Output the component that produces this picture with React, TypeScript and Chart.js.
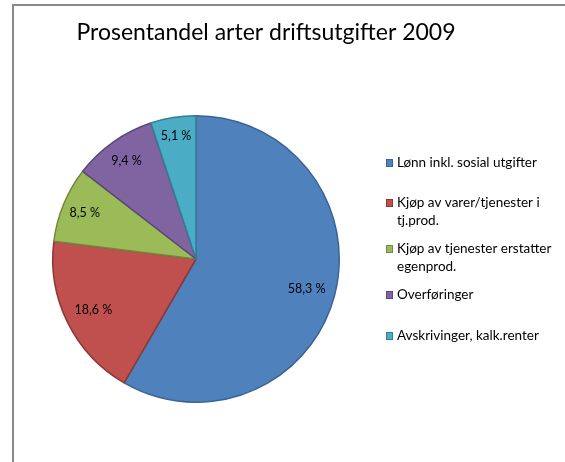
import React, { useEffect, useRef } from "react";
import { Chart, registerables } from "chart.js";

Chart.register(...registerables);

const titleText = "Prosentandel arter driftsutgifter 2009";
const categories = [
  "Lønn inkl. sosial utgifter",
  "Kjøp av varer/tjenester i tj.prod.",
  "Kjøp av tjenester erstatter egenprod.",
  "Overføringer",
  "Avskrivinger, kalk.renter",
];
const legendLines = [
  ["Lønn inkl. sosial utgifter"],
  ["Kjøp av varer/tjenester i", "tj.prod."],
  ["Kjøp av tjenester erstatter", "egenprod."],
  ["Overføringer"],
  ["Avskrivinger, kalk.renter"],
];
const values = [58.3, 18.6, 8.5, 9.4, 5.1];
const valueLabels = ["58,3 %", "18,6 %", "8,5 %", "9,4 %", "5,1 %"];
const fillColors = ["#4F81BD", "#C0504D", "#9BBB59", "#8064A2", "#4BACC6"];
const borderColors = ["#3A6496", "#8C3836", "#71893F", "#5C4776", "#357D91"];

const FONT = "Lato, 'Open Sans', sans-serif";

export default function App() {
  const ref = useRef<HTMLCanvasElement | null>(null);

  useEffect(() => {
    const canvas = ref.current;
    if (!canvas) return;

    const framePlugin = {
      id: "frame",
      beforeDraw(chart: any) {
        const ctx = chart.ctx;
        ctx.save();
        ctx.fillStyle = "#ffffff";
        ctx.fillRect(0, 0, chart.width, chart.height);
        ctx.strokeStyle = "#8a8a8a";
        ctx.lineWidth = 2;
        ctx.strokeRect(13, 5, 700, 700);
        ctx.fillStyle = "#000000";
        ctx.font = `23px ${FONT}`;
        ctx.textAlign = "center";
        ctx.textBaseline = "middle";
        ctx.fillText(titleText, 266, 33);
        ctx.restore();
      },
    };

    const labelPlugin = {
      id: "sliceLabels",
      afterDatasetsDraw(chart: any) {
        const ctx = chart.ctx;
        const meta = chart.getDatasetMeta(0);
        ctx.save();
        ctx.fillStyle = "#000000";
        ctx.font = `12.5px ${FONT}`;
        ctx.textAlign = "center";
        ctx.textBaseline = "middle";
        meta.data.forEach((arc: any, i: number) => {
          const p = arc.getProps(["x", "y", "startAngle", "endAngle", "outerRadius"], true);
          const mid = (p.startAngle + p.endAngle) / 2;
          const d = p.outerRadius * (i === 0 || i === 1 ? 0.8 : i === 4 ? 0.87 : 0.84);
          ctx.fillText(valueLabels[i], p.x + Math.cos(mid) * d, p.y + Math.sin(mid) * d);
        });
        ctx.restore();
      },
    };

    const legendPlugin = {
      id: "customLegend",
      afterDraw(chart: any) {
        const ctx = chart.ctx;
        const rows = [163, 203, 249, 295, 336];
        ctx.save();
        ctx.font = `13.5px ${FONT}`;
        ctx.textAlign = "left";
        ctx.textBaseline = "middle";
        legendLines.forEach((lines, i) => {
          const y = rows[i];
          ctx.fillStyle = fillColors[i];
          ctx.fillRect(386, y - 4, 7, 8);
          ctx.strokeStyle = borderColors[i];
          ctx.lineWidth = 1;
          ctx.strokeRect(386.5, y - 3.5, 6, 7);
          ctx.fillStyle = "#000000";
          lines.forEach((t, j) => {
            ctx.fillText(t, 397, y + j * 18);
          });
        });
        ctx.restore();
      },
    };

    const chart = new Chart(canvas, {
      type: "pie",
      data: {
        labels: categories,
        datasets: [
          {
            data: values,
            backgroundColor: fillColors,
            borderColor: borderColors,
            borderWidth: 1.5,
          },
        ],
      },
      options: {
        responsive: false,
        animation: false,
        layout: { padding: { left: 52, right: 225, top: 115, bottom: 59 } },
        plugins: {
          legend: { display: false },
          title: { display: false },
          tooltip: { enabled: false },
        },
      },
      plugins: [framePlugin, labelPlugin, legendPlugin],
    });

    return () => chart.destroy();
  }, []);

  return (
    <div style={{ position: "absolute", left: 0, top: 0, width: 565, height: 462 }}>
      <canvas ref={ref} width={565} height={462} style={{ width: 565, height: 462 }} />
    </div>
  );
}
